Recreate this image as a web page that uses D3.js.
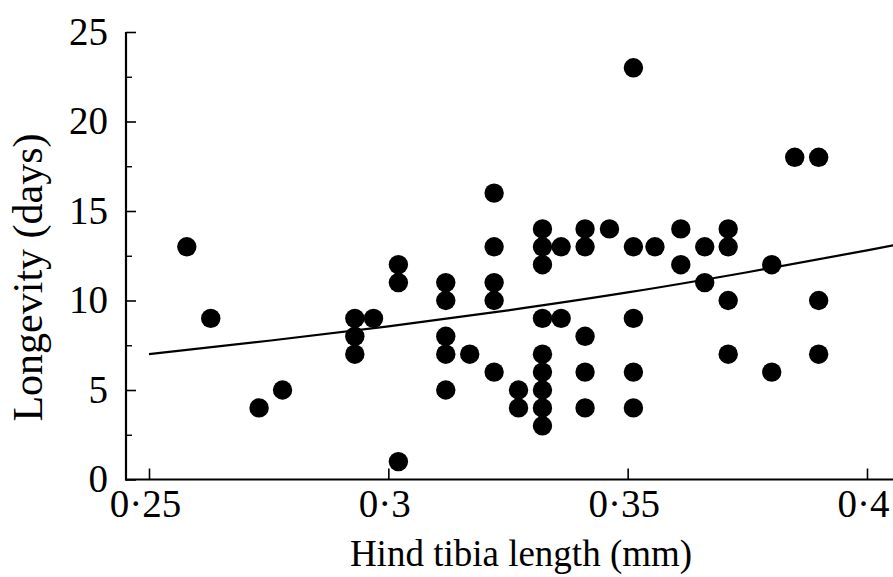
<!DOCTYPE html>
<html>
<head>
<meta charset="utf-8">
<script src="https://cdn.jsdelivr.net/npm/d3@7"></script>
<style>
body { margin: 0; background: #fff; }
</style>
</head>
<body>
<div id="chart"></div>
<script>

// hind tibia length (mm) and longevity (days), one entry per fly
var tibiaLength = [
    0.2579, 0.2629, 0.2730, 0.2779,
    0.2930, 0.2930, 0.2930, 0.2969,
    0.3021, 0.3021, 0.3021,
    0.3120, 0.3120, 0.3120, 0.3120, 0.3120, 0.3170,
    0.3221, 0.3221, 0.3221, 0.3221, 0.3221,
    0.3272, 0.3272,
    0.3322, 0.3322, 0.3322, 0.3322, 0.3322, 0.3322, 0.3322, 0.3322, 0.3322,
    0.3361, 0.3361,
    0.3411, 0.3411, 0.3411, 0.3411, 0.3411, 0.3462,
    0.3512, 0.3512, 0.3512, 0.3512, 0.3512, 0.3557,
    0.3611, 0.3611, 0.3661, 0.3661,
    0.3710, 0.3710, 0.3710, 0.3710,
    0.3801, 0.3801, 0.3849,
    0.3899, 0.3899, 0.3899
];
var longevity = [
    13, 9, 4, 5,
    9, 8, 7, 9,
    12, 11, 1,
    11, 10, 8, 7, 5, 7,
    16, 13, 11, 10, 6,
    5, 4,
    14, 13, 12, 9, 7, 6, 5, 4, 3,
    13, 9,
    14, 13, 8, 6, 4, 14,
    23, 13, 9, 6, 4, 13,
    14, 12, 13, 11,
    14, 13, 10, 7,
    12, 6, 18,
    18, 10, 7
];

// fitted curve
var fitX = [0.25, 0.275, 0.3, 0.325, 0.35, 0.375, 0.4, 0.4055];
var fitY = [7.0, 7.75, 8.55, 9.45, 10.45, 11.58, 12.8, 13.08];

var xTicks = [0.25, 0.3, 0.35, 0.4];
var xTickLabels = ["0·25", "0·3", "0·35", "0·4"];
var yTicks = [0, 5, 10, 15, 20, 25];
var yMinorTicks = [2.5, 7.5, 12.5, 17.5, 22.5];

var width = 893;
var height = 577;
var serif = '"Liberation Serif", "Times New Roman", serif';

var svg = d3.select("#chart")
    .append("svg")
    .attr("width", width)
    .attr("height", height)
    .style("background", "#fff");

var x = d3.scaleLinear().domain([0.25, 0.4]).range([149, 867]);
var y = d3.scaleLinear().domain([0, 25]).range([479.5, 32]);
var axisX = 126;

// y axis, ticks pointing into the plot
var yAxis = svg.append("g")
    .attr("transform", "translate(" + axisX + ",0)")
    .call(d3.axisLeft(y)
        .tickValues(yTicks)
        .tickSizeInner(-10)
        .tickSizeOuter(0)
        .tickPadding(18));
yAxis.select(".domain").remove();
yAxis.attr("font-family", serif).attr("font-size", 39);
yAxis.selectAll("line").attr("stroke-width", 1.6);

var yMinor = svg.append("g")
    .attr("transform", "translate(" + axisX + ",0)")
    .call(d3.axisLeft(y)
        .tickValues(yMinorTicks)
        .tickSizeInner(-6)
        .tickSizeOuter(0)
        .tickFormat(""));
yMinor.select(".domain").remove();
yMinor.selectAll("line").attr("stroke-width", 1.4);

// x axis
var xAxis = svg.append("g")
    .attr("transform", "translate(0," + y(0) + ")")
    .call(d3.axisBottom(x)
        .tickValues(xTicks)
        .tickFormat(function(d, i) { return xTickLabels[i]; })
        .tickSizeInner(-11)
        .tickSizeOuter(0)
        .tickPadding(10));
xAxis.select(".domain").remove();
xAxis.attr("font-family", serif).attr("font-size", 39);
xAxis.selectAll("line").attr("stroke-width", 1.6);
xAxis.selectAll("text").attr("dx", -4);

// axis lines
svg.append("line")
    .attr("x1", axisX).attr("x2", axisX)
    .attr("y1", y(25)).attr("y2", y(0) + 1)
    .attr("stroke", "#000").attr("stroke-width", 2.2);
svg.append("line")
    .attr("x1", axisX - 1).attr("x2", width)
    .attr("y1", y(0)).attr("y2", y(0))
    .attr("stroke", "#000").attr("stroke-width", 2.2);

// fitted curve
var line = d3.line()
    .x(function(d) { return x(d[0]); })
    .y(function(d) { return y(d[1]); })
    .curve(d3.curveMonotoneX);

svg.append("path")
    .datum(d3.zip(fitX, fitY))
    .attr("d", line)
    .attr("fill", "none")
    .attr("stroke", "#000")
    .attr("stroke-width", 2.2);

// points
svg.append("g")
    .selectAll("circle")
    .data(d3.zip(tibiaLength, longevity))
    .enter()
    .append("circle")
    .attr("cx", function(d) { return x(d[0]); })
    .attr("cy", function(d) { return y(d[1]); })
    .attr("r", 9.7)
    .attr("fill", "#000");

// axis titles
svg.append("text")
    .attr("x", 521)
    .attr("y", 566)
    .attr("text-anchor", "middle")
    .attr("font-family", serif)
    .attr("font-size", 37)
    .text("Hind tibia length (mm)");

svg.append("text")
    .attr("transform", "translate(42,277.5) rotate(-90)")
    .attr("text-anchor", "middle")
    .attr("font-family", serif)
    .attr("font-size", 42)
    .text("Longevity (days)");

</script>
</body>
</html>
